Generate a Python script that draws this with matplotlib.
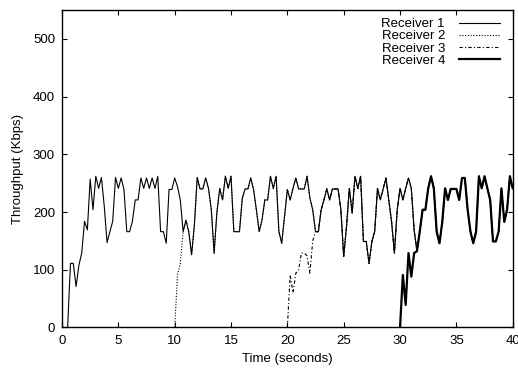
import numpy as np
import matplotlib
matplotlib.use("Agg")
import matplotlib.pyplot as plt

plt.rcParams['font.family'] = ['Liberation Sans', 'DejaVu Sans']
plt.rcParams['font.size'] = 9.5

# receiver 1 samples every 0.25 s from 0.5 s to 40 s
t1 = np.arange(0.5, 40.01, 0.25)
r1 = [0, 111, 111, 71, 108, 129, 184, 169, 257, 204,
      262, 241, 260, 210, 147, 166, 184, 260, 241, 259,
      239, 166, 166, 184, 221, 221, 259, 241, 259, 241,
      259, 241, 262, 166, 166, 146, 239, 239, 259, 244,
      221, 166, 186, 166, 126, 178, 260, 240, 240, 259,
      241, 204, 129, 200, 241, 221, 262, 241, 262, 166,
      166, 166, 224, 240, 240, 259, 239, 204, 166, 186,
      221, 221, 262, 241, 262, 166, 146, 192, 239, 221,
      241, 259, 240, 240, 240, 262, 224, 204, 166, 166,
      204, 221, 240, 221, 240, 240, 240, 204, 123, 175,
      241, 198, 262, 241, 262, 149, 149, 111, 149, 166,
      241, 221, 240, 259, 221, 183, 129, 204, 241, 221,
      241, 259, 241, 169, 132, 166, 204, 204, 241, 262,
      241, 166, 146, 183, 241, 221, 240, 240, 240, 221,
      259, 259, 204, 166, 146, 166, 262, 241, 262, 241,
      221, 149, 149, 166, 241, 183, 204, 262, 241]

# ramp-up of the late receivers, after which they follow receiver 1
t2_start = [10.0, 10.25, 10.5]
r2_start = [0, 91, 111]
t3_start = [20.0, 20.25, 20.5, 20.75, 21.0, 21.25, 21.5, 21.75, 22.0, 22.25]
r3_start = [0, 91, 60, 94, 100, 129, 129, 124, 94, 150]
t4_start = [30.0, 30.25, 30.5, 30.75, 31.0, 31.25]
r4_start = [0, 91, 39, 129, 88, 129]


def join(ts, rs):
    i = int(round((ts[-1] + 0.25 - 0.5) / 0.25))
    return list(ts) + list(t1[i:]), list(rs) + list(r1[i:])


t2, r2 = join(t2_start, r2_start)
t3, r3 = join(t3_start, r3_start)
t4, r4 = join(t4_start, r4_start)

fig = plt.figure(figsize=(5.18, 3.70), dpi=100)
ax = fig.add_axes([0.1197, 0.1149, 0.8701, 0.8581])

ax.plot(t1, r1, color='black', lw=0.8, label='Receiver 1')
ax.plot(t2, r2, color='black', lw=0.8, linestyle=(0, (1, 1.5)), label='Receiver 2')
ax.plot(t3, r3, color='black', lw=0.8, linestyle=(0, (3, 2, 1, 2)), label='Receiver 3')
ax.plot(t4, r4, color='black', lw=1.6, label='Receiver 4')

ax.set_xlim(0, 40)
ax.set_ylim(0, 550)
ax.set_xticks(np.arange(0, 41, 5))
ax.set_yticks(np.arange(0, 501, 100))
ax.tick_params(direction='in', length=3.6, width=0.8, top=True, right=True)
ax.tick_params(axis='x', pad=5.5)
ax.tick_params(axis='y', pad=5)
for s in ax.spines.values():
    s.set_linewidth(1.0)

ax.set_xlabel('Time (seconds)', labelpad=4)
ax.set_ylabel('Throughput (Kbps)', labelpad=6)

ax.legend(loc='upper right', frameon=False, markerfirst=False, handlelength=3.1,
          labelspacing=0.0, borderaxespad=0.3, handletextpad=1.1, fontsize=9.5,
          borderpad=0.3, bbox_to_anchor=(0.99, 1.0))

fig.savefig('out.png', dpi=100)
